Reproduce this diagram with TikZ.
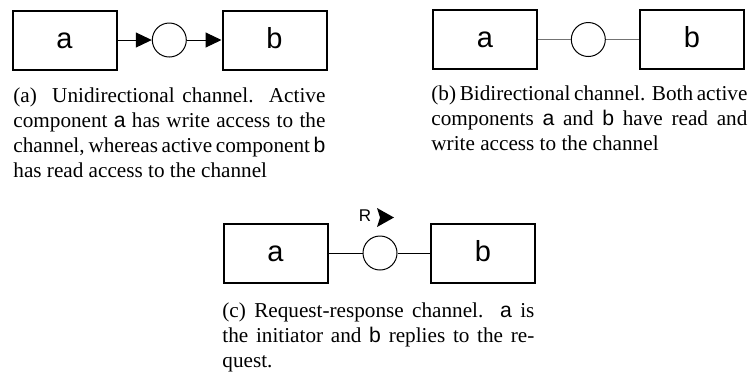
\documentclass[tikz,border=0pt]{standalone}
\usepackage{fontspec}
\setmainfont{Liberation Serif}
\newfontfamily\helv{Liberation Sans}
\usetikzlibrary{arrows.meta}
\newcommand{\cmp}[1]{{\helv #1}}

\begin{document}
\begin{tikzpicture}[x=0.5pt, y=-0.5pt,
        compbox/.style={draw, line width=1pt, minimum width=52pt, minimum height=29.5pt, inner sep=0pt, text height=8pt, text depth=0pt, font=\helv\fontsize{14.5}{14.5}\selectfont},
        chan/.style={draw, circle, line width=0.5pt, minimum size=17pt, inner sep=0pt},
        wire/.style={line width=0.5pt},
        caption/.style={anchor=base west, inner sep=0pt, text width=156pt, align=justify, font=\fontsize{10.6}{12.5}\selectfont}]
        \useasboundingbox (0,0) rectangle (748,372);
        % (a) unidirectional
        \node[compbox] (a1) at (64.5,40) {a};
        \node[chan] (ch1) at (169.3,40) {};
        \node[compbox] (b1) at (274.5,40) {b};
        \draw[wire, -{Triangle[length=8pt,width=7.5pt]}] (a1) -- (ch1);
        \draw[wire, -{Triangle[length=8pt,width=7.5pt]}] (ch1) -- (b1);
        \node[caption] (capa) at (13,102) {(a)\ \ Unidirectional channel.\ \ Active\linebreak component \cmp{a} has write access to the\linebreak channel, whereas active component \cmp{b}\linebreak has read access to the channel};
        % (b) bidirectional
        \node[compbox] (a2) at (485,39.5) {a};
        \node[chan] (ch2) at (588.3,39.5) {};
        \node[compbox] (b2) at (692,39.5) {b};
        \draw[wire, black!55] (a2) -- (ch2);
        \draw[wire, black!55] (ch2) -- (b2);
        \node[caption, text width=158pt] (capb) at (431,100) {(b)\ Bidirectional channel. Both active\linebreak components \cmp{a} and \cmp{b} have read and\linebreak write access to the channel};
        % (c) request-response
        \node[compbox] (a3) at (275.5,253) {a};
        \node[chan] (ch3) at (380,253) {};
        \node[compbox] (b3) at (483,253) {b};
        \draw[wire] (a3) -- (ch3);
        \draw[wire] (ch3) -- (b3);
        \node[font=\helv\fontsize{8.5}{8.5}\selectfont, inner sep=0pt] (req) at (365,215.5) {R};
        \fill (377,208) -- (394,217.5) -- (377,227) -- (380,217.5) -- cycle;
        \node[caption] (capc) at (222,317) {(c)\ Request-response channel.\ \ \cmp{a} is\linebreak the initiator and \cmp{b} replies to the re-\linebreak quest.};
\end{tikzpicture}
\end{document}
